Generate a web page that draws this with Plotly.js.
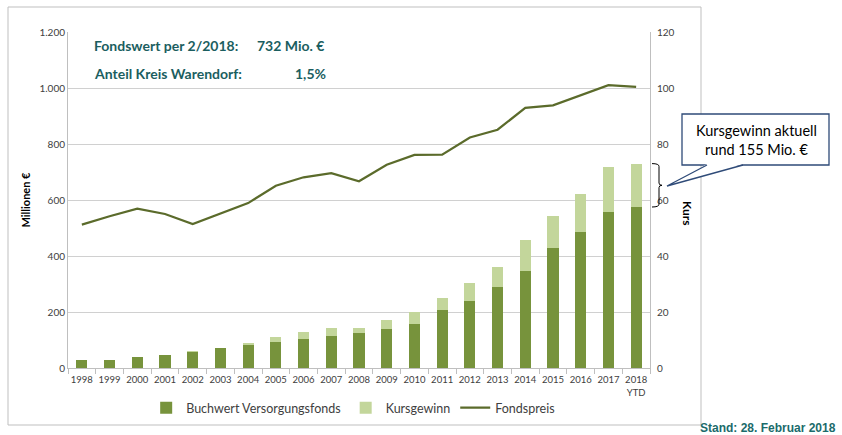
<!DOCTYPE html>
<html><head><meta charset="utf-8">
<script src="https://cdn.plot.ly/plotly-3.0.1.min.js"></script>
<style>html,body{margin:0;padding:0;background:#fff}#chart{width:842px;height:435px}</style>
</head><body><div id="chart"></div>
<script>
const years = ["1998","1999","2000","2001","2002","2003","2004","2005","2006","2007","2008","2009","2010","2011","2012","2013","2014","2015","2016","2017","2018<br>YTD"];
const buchwert = [27,30,38,48,56,71,82,94,105,114,126,139,157,208,239,289,346,429,486,557,575];
const kursgewinn = [0,0,0,0,4,1,8,18,24,28,16,34,43,42,63,73,111,114,135,160,155];
const fondspreis = [51.2,54.2,56.9,55.0,51.4,55.2,58.9,65.1,68.1,69.6,66.7,72.6,76.1,76.2,82.3,85.1,92.9,93.8,97.3,101.0,100.4];

const L=68, R=650, T=32, B=368;
const px = x => (x-L)/(R-L);
const py = y => (B-y)/(B-T);
const teal = "#1B5E5F";
const font = "Lato, 'Open Sans', sans-serif";

const traces = [
  {type:"bar", name:"Buchwert Versorgungsfonds", x:years, y:buchwert, marker:{color:"#77933C"}},
  {type:"bar", name:"Kursgewinn", x:years, y:kursgewinn, marker:{color:"#C3D69B"}},
  {type:"scatter", mode:"lines", name:"Fondspreis", x:years, y:fondspreis, yaxis:"y2", line:{color:"#5B6B2B", width:2.2}}
];

const last = years.length-1;
const topVal = buchwert[last]+kursgewinn[last];
const botVal = buchwert[last];
const bx0 = px(652), bx1 = px(659), bx2 = px(662);
const midVal = (topVal+botVal)/2;

const layout = {
  width:842, height:435,
  margin:{l:L, r:842-R, t:T, b:435-B},
  barmode:"stack", bargap:0.6,
  separators:",.",
  paper_bgcolor:"#fff", plot_bgcolor:"#fff",
  font:{family:font, size:10, color:"#404040"},
  showlegend:true,
  legend:{orientation:"h", x:0.49, xanchor:"center", y:py(408), yanchor:"middle", font:{size:12.5, color:"#404040"}, traceorder:"normal", itemwidth:30},
  xaxis:{type:"category", tickangle:0, showgrid:false, showline:true, linecolor:"#BFBFBF", ticks:"outside", tickson:"boundaries", ticklen:5, tickcolor:"#BFBFBF", ticklabelstandoff:3, tickfont:{size:9.5, color:"#404040"}, fixedrange:true},
  yaxis:{range:[0,1200], dtick:200, tickformat:",d", showgrid:true, gridcolor:"#D0D0D0", showline:true, linecolor:"#BFBFBF", zeroline:false, tickfont:{size:10, color:"#404040"},
         title:{text:"<b>Millionen €</b>", font:{size:11, color:"#000"}, standoff:6}},
  yaxis2:{range:[0,120], dtick:20, overlaying:"y", side:"right", showgrid:false, showline:true, linecolor:"#BFBFBF", zeroline:false, tickfont:{size:10, color:"#404040"}, ticklabelstandoff:4},
  shapes:[
    {type:"rect", xref:"paper", yref:"paper", x0:px(8), x1:px(701), y0:py(425), y1:py(7), line:{color:"#BFBFBF", width:1}, fillcolor:"rgba(0,0,0,0)", layer:"below"},
    {type:"path", xref:"paper", yref:"y", path:`M ${bx0},${topVal} Q ${bx1},${topVal} ${bx1},${topVal-10} L ${bx1},${midVal+8} Q ${bx1},${midVal} ${bx2},${midVal} Q ${bx1},${midVal} ${bx1},${midVal-8} L ${bx1},${botVal+10} Q ${bx1},${botVal} ${bx0},${botVal}`, line:{color:"#000", width:1}},
    {type:"rect", xref:"paper", yref:"paper", x0:px(682), x1:px(829), y0:py(165), y1:py(114), line:{color:"#2F4B78", width:1.3}, fillcolor:"#fff"},
    {type:"path", xref:"paper", yref:"paper", path:`M ${px(707)},${py(164)} L ${px(667)},${py(186)} L ${px(743)},${py(164)} Z`, line:{color:"rgba(0,0,0,0)", width:0}, fillcolor:"#fff"},
    {type:"path", xref:"paper", yref:"paper", path:`M ${px(707)},${py(165)} L ${px(667)},${py(186)} L ${px(743)},${py(165)}`, line:{color:"#2F4B78", width:1.3}}
  ],
  annotations:[
    {xref:"paper", yref:"paper", x:px(92), y:py(46), xanchor:"left", yanchor:"middle", showarrow:false, text:"<b>Fondswert per 2/2018:</b>", font:{size:14, color:teal}},
    {xref:"paper", yref:"paper", x:px(255), y:py(46), xanchor:"left", yanchor:"middle", showarrow:false, text:"<b>732 Mio. €</b>", font:{size:14, color:teal}},
    {xref:"paper", yref:"paper", x:px(92), y:py(73), xanchor:"left", yanchor:"middle", showarrow:false, text:"<b>Anteil Kreis Warendorf:</b>", font:{size:14, color:teal}},
    {xref:"paper", yref:"paper", x:px(293), y:py(73), xanchor:"left", yanchor:"middle", showarrow:false, text:"<b>1,5%</b>", font:{size:14, color:teal}},
    {xref:"paper", yref:"paper", x:px(756), y:py(140), xanchor:"center", yanchor:"middle", showarrow:false, text:"Kursgewinn aktuell<br>rund 155 Mio. €", font:{size:14.5, color:"#000"}},
    {xref:"paper", yref:"paper", x:px(688), y:py(213), xanchor:"center", yanchor:"middle", showarrow:false, textangle:90, text:"<b>Kurs</b>", font:{size:12, color:"#000"}},
    {xref:"paper", yref:"paper", x:px(838), y:py(428), xanchor:"right", yanchor:"middle", showarrow:false, text:"<b>Stand: 28. Februar 2018</b>", font:{family:"'Liberation Sans', Arial, sans-serif", size:12, color:"#1B6B6B"}}
  ]
};

Plotly.newPlot("chart", traces, layout, {displayModeBar:false, staticPlot:true});
</script>
</body></html>
